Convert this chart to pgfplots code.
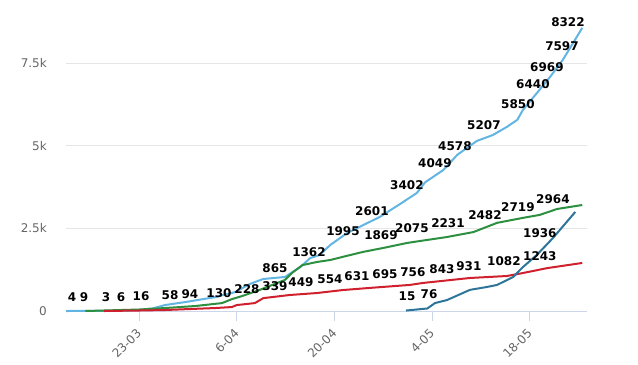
\documentclass[border=0pt]{standalone}
\usepackage{pgfplots}
\pgfplotsset{compat=1.18}
\usepackage{fontspec}
\setmainfont{DejaVu Sans}
\definecolor{cblue}{HTML}{62B4E2}
\definecolor{cgreen}{HTML}{2D9041}
\definecolor{cred}{HTML}{D0202E}
\definecolor{cteal}{HTML}{2C7598}
\definecolor{axcol}{HTML}{CCD6EB}
\definecolor{gridcol}{HTML}{E6E6E6}
\definecolor{tickcol}{HTML}{666666}
\begin{document}
\begin{tikzpicture}
\begin{axis}[name=ax, scale only axis, width=521pt, height=306pt,
  xmin=-10.46, xmax=64.18, ymin=0, ymax=9266,
  axis x line*=bottom, axis y line*=left,
  y axis line style={draw=none},
  x axis line style={draw=axcol, line width=1pt, -},
  xtick={0,14,28,42,56}, xticklabels={23-03,6-04,20-04,4-05,18-05},
  xtick align=outside, xtick style={draw=axcol, line width=1pt},
  major tick length=10pt,
  ytick={0,2500,5000,7500}, yticklabels={0,2.5k,5k,7.5k},
  ytick style={draw=none},
  ymajorgrids, grid style={draw=gridcol, line width=1pt},
  xticklabel style={yshift=-10pt, rotate=45, anchor=east, font=\fontsize{12}{14}\selectfont, text=tickcol, inner sep=0pt},
  yticklabel style={anchor=east, font=\fontsize{12}{14}\selectfont, text=tickcol, inner sep=0pt, xshift=-19pt},
  clip=false,
  every axis plot/.append style={line width=2pt, line join=round}]
\addplot[cblue, mark=none] coordinates {(-10.46,0) (-6,5) (-2,10) (0,30) (2,80) (3.7,180) (6.6,270) (10.9,420) (13.8,575) (15.9,820) (17.8,970) (20.9,1030) (23.1,1330) (24.5,1600) (25.9,1700) (27.4,2000) (29.8,2360) (32.1,2600) (34.5,2850) (37.4,3240) (39.8,3575) (41,3900) (43.6,4270) (45.6,4730) (48.4,5150) (50.7,5330) (52.7,5575) (54.2,5790) (55,6090) (57,6600) (58.9,7090) (60.7,7600) (62.2,8120) (63.5,8575)};
\addplot[cgreen, mark=none] coordinates {(-7.7,0) (0,45) (3.7,90) (8,150) (11.9,240) (13.3,360) (14.8,455) (17.3,640) (20.9,940) (21.9,1150) (23.4,1390) (25.5,1485) (27.4,1545) (29.2,1640) (32.1,1790) (35,1910) (38.4,2060) (39.3,2090) (44.1,2240) (47.9,2390) (51.3,2670) (55,2820) (57.4,2910) (59.9,3090) (63.5,3210)};
\addplot[cred, mark=none] coordinates {(-5,0) (0,15) (3.7,30) (10.9,90) (13.3,120) (14,180) (16.6,240) (17.8,390) (21.6,485) (25.5,545) (29.2,635) (33.1,700) (38.8,790) (40.7,850) (47.4,1000) (52.7,1060) (55,1150) (58.5,1300) (63.5,1455)};
\addplot[cteal, mark=none] coordinates {(38.25,15) (41.3,76) (42.4,240) (44.1,330) (47.4,640) (49.9,730) (51.3,790) (53.6,1030) (55,1330) (57,1700) (59.3,2210) (62.5,3000)};
\addplot[draw=none, mark=none, point meta=explicit symbolic, nodes near coords,
  nodes near coords style={anchor=center, yshift=14pt, text=black, inner sep=0pt, font=\bfseries\fontsize{12}{14}\selectfont}]
  coordinates {
  (-9.60,4)[4] (-7.88,9)[9] (-4.73,3)[3] (-2.58,6)[6] (0.29,16)[16] (4.44,58)[58] (7.30,94)[94] (11.46,130)[130] (15.47,228)[228] (19.48,339)[339] (23.20,449)[449] (27.36,554)[554] (31.22,631)[631] (35.23,695)[695] (39.24,756)[756] (43.40,843)[843] (47.26,931)[931] (52.28,1082)[1082] (57.43,1243)[1243]
  (19.48,865)[865] (24.35,1362)[1362] (34.66,1869)[1869] (39.10,2075)[2075] (44.26,2231)[2231] (49.56,2482)[2482] (54.28,2719)[2719] (59.30,2964)[2964]
  (29.22,1995)[1995] (33.37,2601)[2601] (38.38,3402)[3402] (42.39,4049)[4049] (45.26,4578)[4578] (49.41,5207)[5207] (54.28,5850)[5850] (56.43,6440)[6440] (58.44,6969)[6969] (60.59,7597)[7597] (61.45,8322)[8322]
  (38.40,15)[15] (41.55,76)[76] (57.43,1936)[1936]
  };
\end{axis}
\pgfresetboundingbox
\path[use as bounding box] ([shift={(-66pt,-53pt)}]ax.south west) rectangle ([shift={(51pt,5pt)}]ax.north east);
\end{tikzpicture}
\end{document}
